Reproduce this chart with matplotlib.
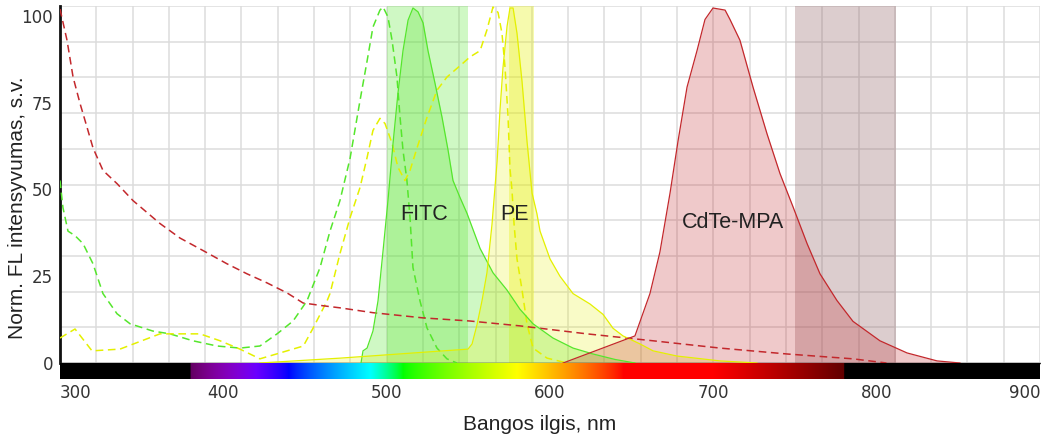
import numpy as np
import matplotlib
matplotlib.use("Agg")
import matplotlib.pyplot as plt

# ---------------- data ----------------
x_ticks = [300, 400, 500, 600, 700, 800, 900]
y_ticks = [0, 25, 50, 75, 100]

fitc_ex_nm = [300, 301.8, 304.9, 309.2, 314.1, 320.2, 326.3, 334.9, 342.9, 356.9, 367.3, 381.4,
              396.1, 410.2, 422.4, 432.9, 442.7, 451.2, 459.2, 465.3, 471.4, 477.6, 483.7, 488,
              491.6, 495.9, 497.8, 500.8, 503.3, 506.3, 508.2, 510, 512.4, 514.3, 516.1, 520.4,
              524.7, 530.8, 536.9, 543]
fitc_ex_val = [52.6, 44.8, 38, 36.7, 34.4, 28.6, 20, 14.2, 11.3, 9.2, 8.4, 6.4,
               4.9, 4.3, 4.9, 8.4, 12.1, 17.9, 27.5, 38, 46.8, 59, 75.7, 87,
               96.8, 101.7, 102.6, 99.7, 93, 82.4, 70.8, 61.3, 52.6, 41.9, 27.5, 17.9,
               10.1, 4.3, 1.2, 0]

fitc_em_nm = [484.3, 485.5, 488, 491.6, 494.7, 497.8, 500.8, 503.9, 506.9, 510, 513.1, 516.1,
              519.2, 522.3, 525.3, 529.6, 533.9, 537.6, 540.6, 544.9, 549.2, 557.2, 565.1,
              573.7, 581.6, 589.6, 601.8, 614.1, 626.3, 640, 652]
fitc_em_val = [0, 3.5, 4.3, 9.2, 17.9, 32.4, 46.8, 63.3, 77.7, 90, 98.8, 102.3,
               101.2, 98, 90, 80.6, 70.8, 61.3, 52.6, 47.7, 43.1, 33, 26,
               21, 15.5, 11.3, 7.2, 4.3, 2.6, 1, 0]

pe_ex_nm = [300, 309.2, 319.6, 336.7, 361.2, 385.7, 398, 410.2, 422.4, 434.7, 449, 454.9,
            463.5, 465.3, 471.4, 477.6, 483.7, 488, 491.6, 495.9, 499, 503.3, 506.9, 511.2,
            514.3, 518.6, 524.7, 530.8, 536.9, 546.7, 551, 557.2, 561.4, 565.1, 568.2, 570.6,
            572.5, 574.3, 575.5, 576.7, 578, 579.8, 582.9, 585.9, 589.6, 598.2, 610.4]
pe_ex_val = [7.2, 9.8, 3.5, 4, 8.4, 8.4, 6.4, 4, 1.2, 2.9, 4.9, 10,
             17.9, 20, 31.5, 41.9, 50.6, 59.2, 67, 70.5, 69, 63.3, 56.4, 52.6,
             55.5, 62, 70.8, 78.6, 82.4, 86.4, 88.2, 90, 96, 102.6, 101, 95,
             85, 71, 56, 50, 40, 30, 21, 11.3, 4.3, 1.4, 0]

pe_em_nm = [422.4, 471.4, 549.8, 552.3, 555.3, 558.4, 561.4, 564.5, 565.7, 567.6, 569.4, 571.2,
            573.7, 575.5, 577.4, 579.8, 582.9, 585.9, 589, 592, 593.9, 600, 606.1, 614.1,
            624.5, 632.5, 638.6, 644.7, 655.1, 663.1, 677.8, 704.1, 726.7]
pe_em_val = [0, 1.4, 4.0, 5.5, 11, 18, 26, 40, 47, 58, 73, 85,
             97, 102.3, 102.3, 95, 81, 64, 49, 43, 38, 30, 25, 20,
             17, 14, 10, 7.8, 5.5, 3.5, 2, 0.6, 0]

cdte_ex_nm = [300, 304.3, 308, 312.2, 316.5, 320.2, 326.3, 334.9, 344.7, 361.2, 373.5, 387.6,
              402.2, 414.5, 426.7, 439, 448.8, 461, 471.4, 491.6, 522.3, 551, 581.6, 622.6,
              663.1, 704.1, 745.1, 785.5, 806]
cdte_ex_val = [102, 93, 82.4, 74.9, 68, 62, 55.5, 51.7, 46.8, 40.2, 36, 32.4,
               28.6, 25.7, 23.1, 20.2, 17.3, 16.5, 15.9, 14.5, 13, 12.1, 10.7, 8.4,
               6.4, 4.3, 2.6, 1.2, 0]

cdte_em_nm = [608, 652, 661.2, 667.3, 673.5, 678.4, 683.9, 690, 694.9, 699.8, 707.2, 710.2,
              716.3, 724.3, 732.9, 740.8, 748.8, 757.4, 765.3, 775.7, 785.5, 802, 818.6, 837, 851]
cdte_em_val = [0, 7.8, 20, 32, 49, 64, 79.5, 90, 99, 102.3, 101.7, 99,
               93, 79.5, 66, 54.6, 45, 34.4, 25.7, 18, 12, 6.4, 2.9, 0.6, 0]

fitc_band = [500, 550]
pe_band = [575, 590]
cdte_band = [750, 812]

labels = ["FITC", "PE", "CdTe-MPA"]
label_x = [523, 578.5, 712]
label_y = [42.8, 42.8, 40.5]

# ---------------- styling ----------------
GREEN = "#55e62c"
YELLOW = "#e4f000"
RED = "#c3282c"
BAND_RED = "#8c5a5f"
TXT = "#222222"
LABEL_FONT = "Liberation Sans"

W, H = 1041, 441
fig = plt.figure(figsize=(W / 100, H / 100), dpi=100)
left_px, right_px = 60, 1040
top_px, axis_px, bar_px = 6, 363, 379
ax = fig.add_axes([left_px / W, 1 - axis_px / H, (right_px - left_px) / W, (axis_px - top_px) / H])
bax = fig.add_axes([left_px / W, 1 - bar_px / H, (right_px - left_px) / W, (bar_px - axis_px) / H])

ytop = 100 * (axis_px - top_px) / (axis_px - 16)
ax.set_xlim(300, 900)
ax.set_ylim(0, ytop)

# grid: 27 columns, 10 rows
for gx in np.linspace(300, 900, 28):
    ax.axvline(gx, color="#dcdcdc", lw=1.1, zorder=0)
for gy in np.linspace(0, ytop, 11):
    ax.axhline(gy, color="#dcdcdc", lw=1.1, zorder=0)

# bands
ax.axvspan(*fitc_band, color=GREEN, alpha=0.28, lw=0, zorder=1)
ax.axvspan(*pe_band, color=YELLOW, alpha=0.32, lw=0, zorder=1)
ax.axvspan(*cdte_band, color=BAND_RED, alpha=0.30, lw=0, zorder=1)

# emission fills
ax.fill_between(fitc_em_nm, fitc_em_val, 0, color=GREEN, alpha=0.28, lw=0, zorder=2)
ax.fill_between(pe_em_nm, pe_em_val, 0, color=YELLOW, alpha=0.22, lw=0, zorder=2)
ax.fill_between(cdte_em_nm, cdte_em_val, 0, color=RED, alpha=0.25, lw=0, zorder=2)

# emission lines
ax.plot(fitc_em_nm, fitc_em_val, color=GREEN, lw=0.9, zorder=4)
ax.plot(pe_em_nm, pe_em_val, color=YELLOW, lw=0.9, zorder=4)
ax.plot(cdte_em_nm, cdte_em_val, color=RED, lw=0.9, zorder=4)

# excitation lines (dashed)
dash = (5, 3)
ax.plot(fitc_ex_nm, fitc_ex_val, color=GREEN, lw=1.1, dashes=dash, zorder=3)
ax.plot(pe_ex_nm, pe_ex_val, color=YELLOW, lw=1.1, dashes=dash, zorder=3)
ax.plot(cdte_ex_nm, cdte_ex_val, color=RED, lw=1.1, dashes=dash, zorder=3)

for t, lx, ly in zip(labels, label_x, label_y):
    ax.text(lx, ly, t, ha="center", va="center", fontsize=15.5, color=TXT,
            family=LABEL_FONT, zorder=6)

for s in ["top", "right"]:
    ax.spines[s].set_visible(False)
ax.spines["left"].set_linewidth(2.0)
ax.spines["left"].set_color("#111111")
ax.spines["bottom"].set_linewidth(1.0)
ax.spines["bottom"].set_color("#333333")
ax.set_xticks([])
ax.set_yticks(y_ticks)
ax.set_yticklabels([str(v) for v in y_ticks])
ax.tick_params(axis="y", length=0, pad=5, labelsize=12, labelcolor="#333333")
ax.set_ylabel("Norm. FL intensyvumas, s.v.", fontsize=15, color=TXT,
              family=LABEL_FONT, ha="center", va="center")
ax.yaxis.set_label_coords((18 - left_px) / (right_px - left_px),
                          (axis_px - 207.5) / (axis_px - top_px))

# spectrum bar
def wl_rgb(w, gamma=0.8):
    if 380 <= w < 440:
        r, g, b = -(w - 440) / 60, 0.0, 1.0
    elif 440 <= w < 490:
        r, g, b = 0.0, (w - 440) / 50, 1.0
    elif 490 <= w < 510:
        r, g, b = 0.0, 1.0, -(w - 510) / 20
    elif 510 <= w < 580:
        r, g, b = (w - 510) / 70, 1.0, 0.0
    elif 580 <= w < 645:
        r, g, b = 1.0, -(w - 645) / 65, 0.0
    elif 645 <= w <= 780:
        r, g, b = 1.0, 0.0, 0.0
    else:
        return (0, 0, 0)
    if w < 420:
        f = 0.3 + 0.7 * (w - 380) / 40
    elif w > 700:
        f = 0.3 + 0.7 * (780 - w) / 80
    else:
        f = 1.0
    return tuple((c * f) ** gamma if c > 0 else 0 for c in (r, g, b))

wls = np.linspace(300, 900, 1201)
img = np.array([[wl_rgb(w) for w in wls]])
bax.imshow(img, extent=[300, 900, 0, 1], aspect="auto", interpolation="bilinear")
bax.set_xlim(300, 900)
bax.set_ylim(0, 1)
bax.set_yticks([])
for s in bax.spines.values():
    s.set_visible(False)
bax.set_xticks(x_ticks)
bax.set_xticklabels([str(v) for v in x_ticks])
bax.tick_params(axis="x", length=0, pad=3.5, labelsize=12, labelcolor="#333333")
tl = bax.get_xticklabels()
tl[0].set_horizontalalignment("left")
tl[-1].set_horizontalalignment("right")
bax.set_xlabel("Bangos ilgis, nm", fontsize=15, color=TXT, family=LABEL_FONT,
               ha="center", va="center")
bax.xaxis.set_label_coords((540 - left_px) / (right_px - left_px),
                           (bar_px - 424) / (bar_px - axis_px))

fig.savefig("out.png", dpi=100, facecolor="white")
